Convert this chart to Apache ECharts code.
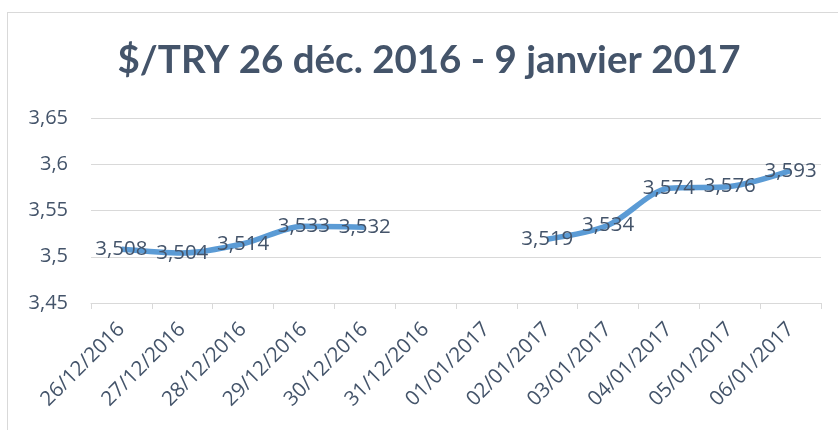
<!DOCTYPE html>
<html>
<head>
<meta charset="utf-8">
<script src="https://cdn.jsdelivr.net/npm/echarts@6/dist/echarts.min.js"></script>
<style>
  html, body { margin: 0; padding: 0; background: #fff; }
  #frame { position: absolute; left: 7px; top: 12px; width: 840px; height: 430px; border: 1px solid #D9D9D9; box-sizing: border-box; }
  #main { position: absolute; left: 0; top: 0; width: 838px; height: 430px; }
</style>
</head>
<body>
<div id="frame"></div>
<div id="main"></div>
<script>
// dates (x axis)
const dates = ['26/12/2016', '27/12/2016', '28/12/2016', '29/12/2016', '30/12/2016', '31/12/2016',
  '01/01/2017', '02/01/2017', '03/01/2017', '04/01/2017', '05/01/2017', '06/01/2017'];
// $/TRY rate, no quote on 31/12 and 01/01
const rates = [3.508, 3.504, 3.514, 3.533, 3.532, null, null, 3.519, 3.534, 3.574, 3.576, 3.593];

let fmt = v => String(v).replace('.', ',');

let chart = echarts.init(document.getElementById('main'));
let option = {
  animation: false,
  title: {
    text: '$/TRY 26 déc. 2016 - 9 janvier 2017',
    left: 424,
    top: 36,
    textAlign: 'center',
    textStyle: {
      fontFamily: 'Lato',
      fontWeight: 'bold',
      fontSize: 38.5,
      color: '#44546A'
    }
  },
  grid: {
    left: 91,
    right: 17,
    top: 118,
    bottom: 127
  },
  xAxis: {
    type: 'category',
    data: dates,
    boundaryGap: true,
    axisLine: { lineStyle: { color: '#D9D9D9', width: 1 } },
    axisTick: { show: true, alignWithLabel: false, length: 6, lineStyle: { color: '#D9D9D9' } },
    axisLabel: {
      interval: 0,
      rotate: 45,
      margin: 23,
      fontFamily: 'Open Sans',
      fontSize: 20.5,
      color: '#44546A'
    }
  },
  yAxis: {
    type: 'value',
    min: 3.45,
    max: 3.65,
    interval: 0.05,
    axisLine: { show: false },
    axisTick: { show: false },
    splitLine: { lineStyle: { color: '#D9D9D9', width: 1 } },
    axisLabel: {
      margin: 23,
      fontFamily: 'Open Sans',
      fontSize: 20,
      color: '#44546A',
      formatter: v => fmt(+v.toFixed(2))
    }
  },
  series: [
    {
      type: 'line',
      data: rates,
      smooth: 0.3,
      connectNulls: false,
      showSymbol: true,
      symbol: 'circle',
      symbolSize: 0,
      lineStyle: { color: '#5B9BD5', width: 5.5 },
      itemStyle: { color: '#5B9BD5' },
      label: {
        show: true,
        position: 'inside',
        fontFamily: 'Open Sans',
        fontSize: 20.5,
        color: '#44546A',
        formatter: p => fmt(p.value)
      }
    }
  ]
};
chart.setOption(option);
</script>
</body>
</html>
